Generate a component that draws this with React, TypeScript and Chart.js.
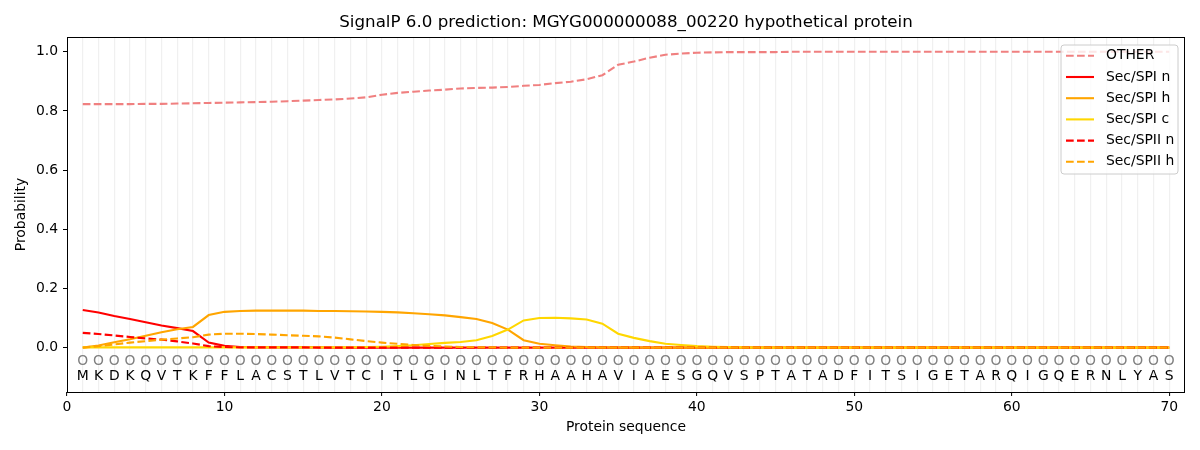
import { useEffect, useRef } from "react";
import { Chart, registerables } from "chart.js";

Chart.register(...registerables);

const title = "SignalP 6.0 prediction: MGYG000000088_00220 hypothetical protein";
const sequence = "MKDKQVTKFFLACSTLVTCITLGINLTFRHAAHAVIAESGQVSPTATADFITSIGETARQIGQERNLYAS";
const predicted = "O".repeat(70);

const other = [
  0.823, 0.823, 0.823, 0.823, 0.824, 0.824, 0.825, 0.826, 0.827, 0.828,
  0.829, 0.83, 0.831, 0.833, 0.835, 0.837, 0.839, 0.842, 0.846, 0.855,
  0.861, 0.865, 0.869, 0.872, 0.876, 0.878, 0.879, 0.881, 0.885, 0.888,
  0.894, 0.899, 0.907, 0.921, 0.956, 0.967, 0.98, 0.99, 0.994, 0.997,
  0.998, 0.999, 0.999, 0.999, 0.999, 1, 1, 1, 1, 1,
  1, 1, 1, 1, 1, 1, 1, 1, 1, 1,
  1, 1, 1, 1, 1, 1, 1, 1, 1, 1,
];
const secSpiN = [
  0.127, 0.119, 0.107, 0.097, 0.086, 0.075, 0.066, 0.056, 0.017, 0.006,
  0.002, 0.001, 0.001, 0.001, 0.001, 0.001, 0, 0, 0, 0,
  0, 0, 0, 0, 0, 0, 0, 0, 0, 0,
  0, 0, 0, 0, 0, 0, 0, 0, 0, 0,
  0, 0, 0, 0, 0, 0, 0, 0, 0, 0,
  0, 0, 0, 0, 0, 0, 0, 0, 0, 0,
  0, 0, 0, 0, 0, 0, 0, 0, 0, 0,
];
const secSpiH = [
  0, 0.007, 0.018, 0.028, 0.04, 0.052, 0.062, 0.07, 0.11, 0.121,
  0.124, 0.125, 0.125, 0.125, 0.125, 0.124, 0.124, 0.123, 0.122, 0.121,
  0.119, 0.116, 0.113, 0.109, 0.103, 0.097, 0.083, 0.061, 0.025, 0.013,
  0.008, 0.004, 0.002, 0.001, 0.001, 0.001, 0, 0, 0, 0,
  0, 0, 0, 0, 0, 0, 0, 0, 0, 0,
  0, 0, 0, 0, 0, 0, 0, 0, 0, 0,
  0, 0, 0, 0, 0, 0, 0, 0, 0, 0,
];
const secSpiC = [
  0.001, 0.001, 0.001, 0.001, 0.001, 0.001, 0.001, 0.001, 0.001, 0.001,
  0.001, 0.001, 0.001, 0.001, 0.001, 0.001, 0.001, 0.001, 0.002, 0.003,
  0.005, 0.008, 0.012, 0.016, 0.019, 0.025, 0.039, 0.061, 0.092, 0.1,
  0.101, 0.099, 0.095, 0.081, 0.047, 0.033, 0.022, 0.013, 0.009, 0.005,
  0.003, 0.002, 0.001, 0, 0, 0, 0, 0, 0, 0,
  0, 0, 0, 0, 0, 0, 0, 0, 0, 0,
  0, 0, 0, 0, 0, 0, 0, 0, 0, 0,
];
const secSpiiN = [
  0.05, 0.046, 0.041, 0.036, 0.031, 0.027, 0.021, 0.014, 0.005, 0.002,
  0.001, 0.001, 0.001, 0.001, 0.001, 0, 0, 0, 0, 0,
  0, 0, 0, 0, 0, 0, 0, 0, 0, 0,
  0, 0, 0, 0, 0, 0, 0, 0, 0, 0,
  0, 0, 0, 0, 0, 0, 0, 0, 0, 0,
  0, 0, 0, 0, 0, 0, 0, 0, 0, 0,
  0, 0, 0, 0, 0, 0, 0, 0, 0, 0,
];
const secSpiiH = [
  0, 0.005, 0.011, 0.017, 0.022, 0.027, 0.031, 0.035, 0.044, 0.047,
  0.047, 0.046, 0.044, 0.042, 0.04, 0.038, 0.034, 0.028, 0.022, 0.017,
  0.013, 0.009, 0.006, 0.004, 0.002, 0.001, 0.001, 0, 0, 0,
  0, 0, 0, 0, 0, 0, 0, 0, 0, 0,
  0, 0, 0, 0, 0, 0, 0, 0, 0, 0,
  0, 0, 0, 0, 0, 0, 0, 0, 0, 0,
  0, 0, 0, 0, 0, 0, 0, 0, 0, 0,
];

const yTicks = [0, 0.2, 0.4, 0.6, 0.8, 1.0];

const series = [
  { label: "OTHER", values: other, color: "#f08080", dashed: true },
  { label: "Sec/SPI n", values: secSpiN, color: "#ff0000", dashed: false },
  { label: "Sec/SPI h", values: secSpiH, color: "#ffa500", dashed: false },
  { label: "Sec/SPI c", values: secSpiC, color: "#ffd700", dashed: false },
  { label: "Sec/SPII n", values: secSpiiN, color: "#ff0000", dashed: true },
  { label: "Sec/SPII h", values: secSpiiH, color: "#ffa500", dashed: true },
];

const FONT = "DejaVu Sans";
const DASH = [7.7, 3.3];

// text, frame and legend drawn on top of the chart the way matplotlib places them
const overlay = {
  id: "overlay",
  afterDatasetsDraw(chart: any) {
    const { ctx, chartArea: a, scales } = chart;
    const xs = scales.x;
    const ys = scales.y;
    ctx.save();
    ctx.fillStyle = "#000";
    ctx.textAlign = "center";
    ctx.textBaseline = "middle";
    ctx.font = `13.9px ${FONT}`;
    for (let i = 0; i < sequence.length; i++) {
      const px = xs.getPixelForValue(i + 1);
      ctx.fillStyle = "#808080";
      ctx.fillText(predicted[i], px, ys.getPixelForValue(-0.046));
      ctx.fillStyle = "#000";
      ctx.fillText(sequence[i], px, ys.getPixelForValue(-0.098));
    }

    ctx.strokeStyle = "#000";
    ctx.lineWidth = 1;
    ctx.strokeRect(a.left + 0.5, a.top + 0.5, a.right - a.left - 1, a.bottom - a.top);

    ctx.font = `16.7px ${FONT}`;
    ctx.fillText(title, (a.left + a.right) / 2, 23);
    ctx.font = `13.9px ${FONT}`;
    ctx.fillText("Protein sequence", (a.left + a.right) / 2, 427);
    ctx.save();
    ctx.translate(21.5, (a.top + a.bottom) / 2);
    ctx.rotate(-Math.PI / 2);
    ctx.fillText("Probability", 0, 0);
    ctx.restore();

    // legend
    const bx = 1061, by = 45, bw = 117, bh = 129;
    ctx.beginPath();
    ctx.roundRect(bx, by, bw, bh, 3);
    ctx.fillStyle = "rgba(255,255,255,0.8)";
    ctx.fill();
    ctx.strokeStyle = "#cccccc";
    ctx.stroke();
    ctx.textAlign = "left";
    series.forEach((s, i) => {
      const y = 55.8 + i * 21.2;
      ctx.beginPath();
      ctx.setLineDash(s.dashed ? DASH : []);
      ctx.strokeStyle = s.color;
      ctx.lineWidth = 2.1;
      ctx.moveTo(1066, y);
      ctx.lineTo(1094, y);
      ctx.stroke();
      ctx.setLineDash([]);
      ctx.fillStyle = "#000";
      ctx.fillText(s.label, 1106, y);
    });
    ctx.restore();
  },
};

export default function App() {
  const canvasRef = useRef<HTMLCanvasElement>(null);

  useEffect(() => {
    const ctx = canvasRef.current?.getContext("2d");
    if (!ctx) return;
    const chart = new Chart(ctx, {
      type: "line",
      data: {
        datasets: series.map((s, i) => ({
          label: s.label,
          data: s.values.map((v, j) => ({ x: j + 1, y: v })),
          borderColor: s.color,
          backgroundColor: s.color,
          borderWidth: 2.1,
          borderDash: s.dashed ? DASH : [],
          pointRadius: 0,
          tension: 0,
          fill: false,
          order: -i,
        })),
      },
      options: {
        animation: false,
        responsive: false,
        events: [],
        layout: { padding: { top: 37, right: 15, left: 0, bottom: 0 } },
        plugins: {
          legend: { display: false },
          title: { display: false },
          tooltip: { enabled: false },
        },
        scales: {
          x: {
            type: "linear",
            min: 0,
            max: 71,
            afterFit: (s: any) => {
              s.height = 58;
            },
            border: { display: false },
            grid: {
              drawOnChartArea: true,
              lineWidth: 1.2,
              tickLength: 4,
              color: (c: any) =>
                c.tick && c.tick.value >= 1 && c.tick.value <= 70 ? "#f0f0f0" : "rgba(0,0,0,0)",
              tickColor: (c: any) =>
                c.tick && c.tick.value % 10 === 0 ? "#000" : "rgba(0,0,0,0)",
              tickWidth: 1,
            },
            ticks: {
              stepSize: 1,
              autoSkip: false,
              maxRotation: 0,
              padding: 3,
              color: "#000",
              font: { family: FONT, size: 13.9 },
              callback: (v: any) => (Number(v) % 10 === 0 ? String(v) : ""),
            },
          },
          y: {
            type: "linear",
            min: -0.15,
            max: 1.05,
            afterFit: (s: any) => {
              s.width = 67;
            },
            afterBuildTicks: (s: any) => {
              s.ticks = yTicks.map((v) => ({ value: v }));
            },
            border: { display: false },
            grid: {
              drawOnChartArea: false,
              tickLength: 4,
              tickColor: "#000",
              tickWidth: 1,
            },
            ticks: {
              padding: 5,
              color: "#000",
              font: { family: FONT, size: 13.9 },
              callback: (v: any) => Number(v).toFixed(1),
            },
          },
        },
      },
      plugins: [overlay],
    });
    return () => {
      chart.destroy();
    };
  }, []);

  return (
    <div style={{ position: "fixed", left: 0, top: 0, width: 1200, height: 450, background: "#fff" }}>
      <canvas ref={canvasRef} width={1200} height={450} />
    </div>
  );
}
